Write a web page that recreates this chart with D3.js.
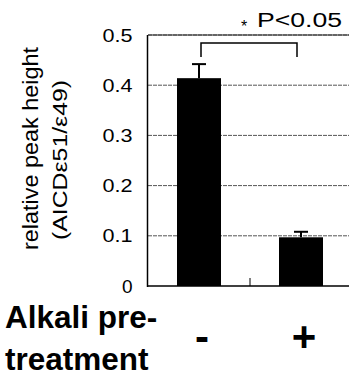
<!DOCTYPE html>
<html>
<head>
<meta charset="utf-8">
<script src="https://cdn.jsdelivr.net/npm/d3@7/dist/d3.min.js"></script>
<style>
  body { margin: 0; background: #fff; }
  text { font-family: "Liberation Sans", Arial, sans-serif; fill: #000; }
</style>
</head>
<body>
<div id="chart"></div>
<script>
var width = 349, height = 380;

// data
var categories = ["-", "+"];
var values = [0.414, 0.097];
var errors = [0.028, 0.011];
var yTicks = [0, 0.1, 0.2, 0.3, 0.4, 0.5];
var yTitle = ["relative peak height", "(AICD\u03b551/\u03b549)"];
var xTitle = ["Alkali pre-", "treatment"];
var sigLabel = "P<0.05";

var svg = d3
  .select("#chart")
  .append("svg")
  .attr("width", width)
  .attr("height", height);

var x = d3.scaleBand().domain(categories).range([148, 352]).padding(0);
var y = d3.scaleLinear().domain([0, 0.5]).range([286, 35]);
var barW = 44;

// gridlines
svg
  .selectAll(".grid")
  .data(yTicks.filter(function (d) { return d > 0; }))
  .enter()
  .append("line")
  .attr("x1", 148)
  .attr("x2", 349)
  .attr("y1", function (d) { return y(d); })
  .attr("y2", function (d) { return y(d); })
  .style("stroke", "#555")
  .style("stroke-width", 1)
  .style("stroke-dasharray", "4,1");

// y axis labels
var yAxis = svg
  .append("g")
  .attr("transform", "translate(147.5,0)")
  .call(d3.axisLeft(y).tickValues(yTicks).tickSize(0).tickPadding(15)
    .tickFormat(function (d) { return d === 0 ? "0" : d3.format(".1f")(d); }));
yAxis.select(".domain").remove();
yAxis
  .selectAll("text")
  .style("font-size", "19px")
  .style("font-family", "Liberation Sans, Arial, sans-serif")
  .attr("fill", "#000")
  .each(function (d) {
    if (d > 0) d3.select(this).attr("textLength", 30).attr("lengthAdjust", "spacingAndGlyphs");
  });

// bars
svg
  .selectAll(".bar")
  .data(values)
  .enter()
  .append("rect")
  .attr("x", function (d, i) { return x(categories[i]) + x.bandwidth() / 2 - barW / 2; })
  .attr("y", function (d) { return y(d); })
  .attr("width", barW)
  .attr("height", function (d) { return y(0) - y(d); })
  .style("fill", "#000");

// error bars
var eb = svg
  .selectAll(".err")
  .data(values)
  .enter()
  .append("g");
eb.append("line")
  .attr("x1", function (d, i) { return x(categories[i]) + x.bandwidth() / 2; })
  .attr("x2", function (d, i) { return x(categories[i]) + x.bandwidth() / 2; })
  .attr("y1", function (d) { return y(d); })
  .attr("y2", function (d, i) { return y(d + errors[i]); });
eb.append("line")
  .attr("x1", function (d, i) { return x(categories[i]) + x.bandwidth() / 2 - 7; })
  .attr("x2", function (d, i) { return x(categories[i]) + x.bandwidth() / 2 + 7; })
  .attr("y1", function (d, i) { return y(d + errors[i]); })
  .attr("y2", function (d, i) { return y(d + errors[i]); });
eb.selectAll("line").style("stroke", "#000").style("stroke-width", 2);

// axes lines
svg.append("line")
  .attr("x1", 147.5).attr("x2", 147.5)
  .attr("y1", y(0.5)).attr("y2", y(0) + 1)
  .style("stroke", "#000").style("stroke-width", 1.5);
svg.append("line")
  .attr("x1", 147).attr("x2", 349)
  .attr("y1", y(0)).attr("y2", y(0))
  .style("stroke", "#000").style("stroke-width", 1.5);
svg.append("line")
  .attr("x1", 148).attr("x2", 349)
  .attr("y1", y(0.5)).attr("y2", y(0.5))
  .style("stroke", "#222").style("stroke-width", 1);
// category boundary tick
svg.append("line")
  .attr("x1", x("+")).attr("x2", x("+"))
  .attr("y1", y(0) - 8).attr("y2", y(0))
  .style("stroke", "#000").style("stroke-width", 1);

// significance bracket
var bx1 = x("-") + x.bandwidth() / 2 + 2;
var bx2 = x("+") + x.bandwidth() / 2 - 4;
svg.append("path")
  .attr("d", "M" + bx1 + "," + y(0.456) + "V" + y(0.484) + "H" + bx2 + "V" + y(0.456))
  .style("fill", "none").style("stroke", "#000").style("stroke-width", 1.5);

svg.append("text").attr("x", 244).attr("y", 32).attr("text-anchor", "middle")
  .style("font-size", "16px").text("*");
svg.append("text").attr("x", 257).attr("y", 27)
  .attr("textLength", 85).attr("lengthAdjust", "spacingAndGlyphs")
  .style("font-size", "19.5px").text(sigLabel);

// y title
svg.append("text")
  .attr("transform", "translate(38,148.5) rotate(-90)")
  .attr("text-anchor", "middle")
  .attr("textLength", 203).attr("lengthAdjust", "spacingAndGlyphs")
  .style("font-size", "21.5px").text(yTitle[0]);
svg.append("text")
  .attr("transform", "translate(66.5,160) rotate(-90)")
  .attr("text-anchor", "middle")
  .attr("textLength", 160).attr("lengthAdjust", "spacingAndGlyphs")
  .style("font-size", "21px").text(yTitle[1]);

// x title
svg.selectAll(".xt")
  .data(xTitle)
  .enter()
  .append("text")
  .attr("x", 5)
  .attr("y", function (d, i) { return 328 + i * 42; })
  .style("font-size", "31.5px").style("font-weight", "bold")
  .text(function (d) { return d; });

// category labels
svg.selectAll(".cat")
  .data(categories)
  .enter()
  .append("text")
  .attr("x", function (d) { return x(d) + x.bandwidth() / 2 + 3; })
  .attr("y", 351)
  .attr("text-anchor", "middle")
  .style("font-size", "42px").style("font-weight", "bold")
  .text(function (d) { return d; });
</script>
</body>
</html>
